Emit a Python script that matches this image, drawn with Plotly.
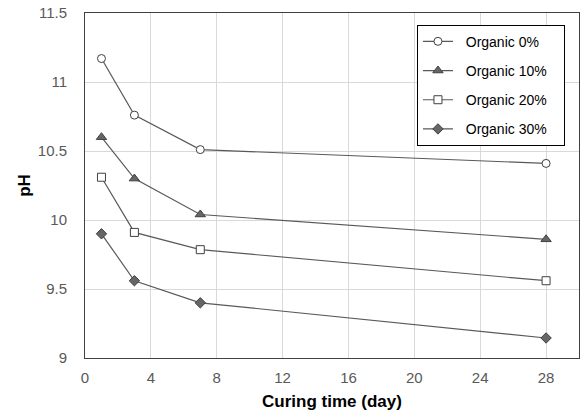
import plotly.graph_objects as go

days = [1, 3, 7, 28]
ph_0 = [11.17, 10.76, 10.51, 10.41]
ph_10 = [10.60, 10.30, 10.04, 9.86]
ph_20 = [10.31, 9.91, 9.785, 9.56]
ph_30 = [9.90, 9.56, 9.40, 9.145]
names = ["Organic 0%", "Organic 10%", "Organic 20%", "Organic 30%"]
x_ticks = [0, 4, 8, 12, 16, 20, 24, 28]
y_ticks = [9, 9.5, 10, 10.5, 11, 11.5]

line_col = "#595959"
styles = [
    dict(symbol="circle", color="white", size=8),
    dict(symbol="triangle-up", color="#666666", size=9),
    dict(symbol="square", color="white", size=8),
    dict(symbol="diamond", color="#666666", size=8),
]

NB = "\u00a0"
fig = go.Figure()
for i, (nm, ys) in enumerate(zip(names, [ph_0, ph_10, ph_20, ph_30])):
    st = styles[i]
    fig.add_trace(go.Scatter(
        x=days, y=ys, name=NB * 2 + nm + NB * 3, mode="lines+markers",
        legendgroup=f"g{i}",
        line=dict(color=line_col, width=1.2),
        marker=dict(symbol=st["symbol"], size=st["size"], color=st["color"],
                    line=dict(color="#404040", width=1)),
    ))

font_family = "Liberation Sans, Arial, sans-serif"
fig.update_layout(
    width=581, height=417,
    margin=dict(l=85, r=2, t=13, b=59),
    paper_bgcolor="white", plot_bgcolor="white",
    font=dict(family=font_family, size=15, color="#595959"),
    showlegend=True,
    legend=dict(
        x=0.672, y=0.966, xanchor="left", yanchor="top",
        bgcolor="white", bordercolor="#000000", borderwidth=1,
        font=dict(size=14, color="#000000"),
        tracegroupgap=8, itemwidth=30,
    ),
    xaxis=dict(
        range=[0, 30], tickvals=x_ticks, ticks="",
        showgrid=True, gridcolor="#d9d9d9", gridwidth=1,
        showline=True, linecolor="#404040", linewidth=1, mirror=True,
        zeroline=False, ticklabelstandoff=6,
        title=dict(text="<b>Curing time (day)</b>", font=dict(size=17, color="#000000"), standoff=10),
        tickfont=dict(size=15, color="#595959"),
    ),
    yaxis=dict(
        range=[9, 11.5], tickvals=y_ticks, ticktext=["9", "9.5", "10", "10.5", "11", "11.5"],
        ticks="", showgrid=True, gridcolor="#d9d9d9", gridwidth=1,
        showline=True, linecolor="#404040", linewidth=1, mirror=True,
        zeroline=False, ticklabelstandoff=14,
        title=dict(text="<b>pH</b>", font=dict(size=17, color="#000000"), standoff=2),
        tickfont=dict(size=15, color="#595959"),
    ),
)

fig.write_html("out.html")
